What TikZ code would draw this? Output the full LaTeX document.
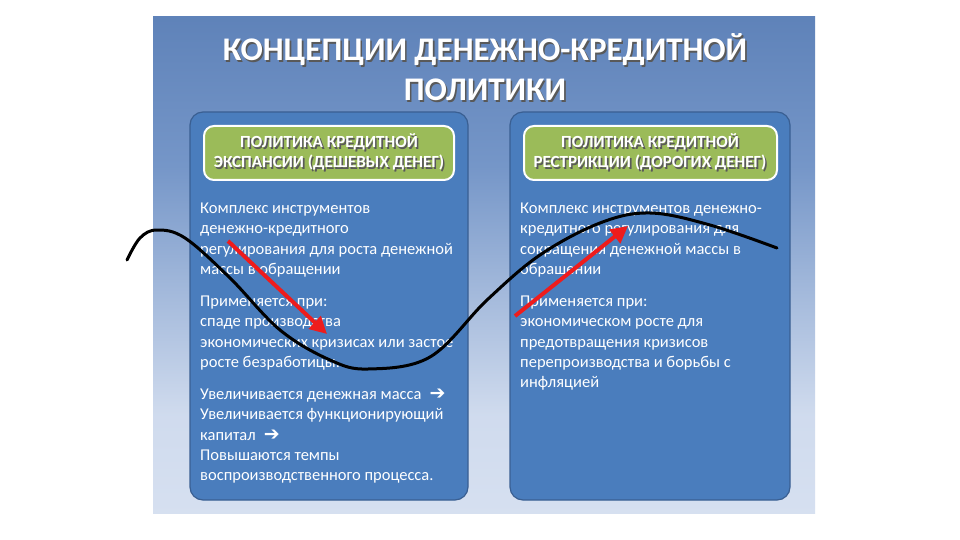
\documentclass[tikz,border=0pt]{standalone}
\usepackage{fontspec}
\setmainfont{Carlito}
\newfontfamily\symfont{DejaVu Sans}
\usetikzlibrary{arrows.meta}
\definecolor{slidetop}{HTML}{3A62A0}
\definecolor{slidemid}{HTML}{7596C8}
\definecolor{slidebot}{HTML}{E6ECF7}
\definecolor{panelfill}{HTML}{4A7DBD}
\definecolor{paneldraw}{HTML}{3A5F92}
\definecolor{headfill}{HTML}{9BBB59}
\definecolor{wavered}{HTML}{EE1C1C}
\pgfdeclareverticalshading{slideshade}{100bp}{
  color(0bp)=(slidebot); color(35bp)=(slidebot!80!slidemid);
  color(60bp)=(slidemid); color(100bp)=(slidetop)}
\newcommand{\shd}[1]{\makebox[0pt][l]{\hspace{1.6pt}\raisebox{-1.6pt}{\color{black!65}#1}}#1}
\newcommand{\arr}{\hspace{0.5em}{\symfont\fontsize{19}{15}\selectfont ➔}}
\tikzset{
  panel/.style    = {draw=paneldraw, line width=1.2pt, fill=panelfill,
                     rounded corners=13pt},
  headbox/.style  = {draw=white, line width=2pt, fill=headfill,
                     rounded corners=10pt},
  headtext/.style = {text=white, align=center, font=\bfseries\fontsize{17}{20}\selectfont},
  bodytext/.style = {text=white, align=left, anchor=north west, inner sep=0pt,
                     font=\fontsize{16.5}{20.2}\selectfont},
  wave/.style     = {line width=3pt, black, line cap=round},
  redarrow/.style = {line width=4pt, wavered, -{Triangle[length=17pt,width=17pt]}}
}
\begin{document}
\begin{tikzpicture}[x=1pt,y=-1pt]
\useasboundingbox (0,0) rectangle (960,540);
\fill[white] (0,0) rectangle (960,540);
\shade[shading=slideshade] (153,17) rectangle (815,513);

\node[text=white, align=center, font=\bfseries\fontsize{33}{40}\selectfont]
  (title) at (485,68) {\shd{КОНЦЕПЦИИ ДЕНЕЖНО-КРЕДИТНОЙ}\\\shd{ПОЛИТИКИ}};

\draw[panel] (190,112) rectangle (468,500);
\draw[panel] (510,112) rectangle (790,500);
\coordinate (leftpanel) at (329,306);
\coordinate (rightpanel) at (650,306);

\draw[headbox] (204,126) rectangle (454,180);
\draw[headbox] (524,126) rectangle (777,180);
\node[headtext] (lefthead) at (329,153)
  {\shd{ПОЛИТИКА КРЕДИТНОЙ}\\\shd{ЭКСПАНСИИ (ДЕШЕВЫХ ДЕНЕГ)}};
\node[headtext] (righthead) at (650,153)
  {\shd{ПОЛИТИКА КРЕДИТНОЙ}\\\shd{РЕСТРИКЦИИ (ДОРОГИХ ДЕНЕГ)}};

\node[bodytext] (leftdef) at (200,203)
  {Комплекс инструментов\\денежно-кредитного\\регулирования для роста денежной\\массы в обращении};
\node[bodytext] (leftwhen) at (200,296)
  {Применяется при:\\спаде производства\\экономических кризисах или застое\\росте безработицы.};
\node[bodytext] (lefteffect) at (200,389)
  {Увеличивается денежная масса\arr\\Увеличивается функционирующий\\капитал\arr\\Повышаются темпы\\воспроизводственного процесса.};

\node[bodytext] (rightdef) at (520,203)
  {Комплекс инструментов денежно-\\кредитного регулирования для\\сокращения денежной массы в\\обращении};
\node[bodytext] (rightwhen) at (520,296)
  {Применяется при:\\экономическом росте для\\предотвращения кризисов\\перепроизводства и борьбы с\\инфляцией};

\draw[wave] plot[smooth, tension=0.6] coordinates {
  (127,260) (140,238) (157,230) (185,238) (230,278) (280,330) (330,360)
  (368,369) (430,357) (487,300) (540,255) (600,223) (650,213) (710,225) (777,248)};

\coordinate (downstart) at (228,241);
\coordinate (downend) at (327,334);
\coordinate (upstart) at (515,316);
\coordinate (upend) at (628,226);
\draw[redarrow] (downstart) -- (downend);
\draw[redarrow] (upstart) -- (upend);
\end{tikzpicture}
\end{document}
